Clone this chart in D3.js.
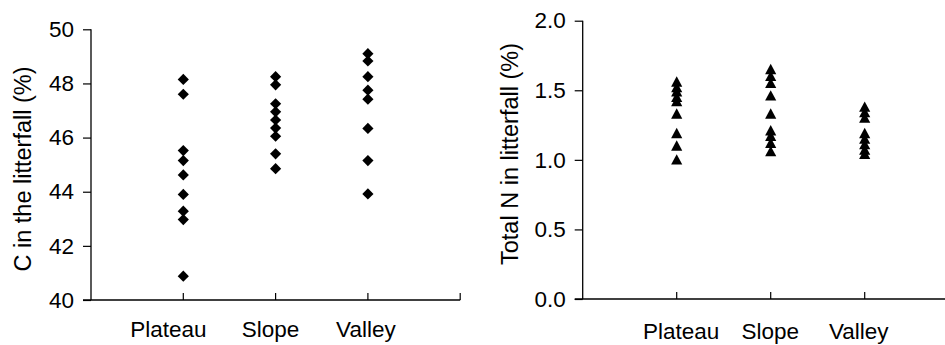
<!DOCTYPE html>
<html>
<head>
<meta charset="utf-8">
<script src="https://cdn.jsdelivr.net/npm/d3@7"></script>
<style>
  body { margin: 0; background: #fff; }
  svg { display: block; }
  text { font-family: "Liberation Sans", Arial, sans-serif; fill: #000; }
</style>
</head>
<body>
<svg id="chart" width="945" height="345"></svg>
<script>
// categories on the x axis
const sites = ['Plateau', 'Slope', 'Valley'];

// carbon content in litterfall (%)
const carbonPlateau = [48.15, 47.6, 45.52, 45.15, 44.62, 43.9, 43.28, 42.97, 40.88];
const carbonSlope = [48.25, 47.95, 47.25, 46.95, 46.65, 46.35, 46.05, 45.4, 44.85];
const carbonValley = [49.1, 48.83, 48.25, 47.75, 47.42, 46.34, 45.15, 43.92];

// total nitrogen in litterfall (%)
const nitrogenPlateau = [1.56, 1.52, 1.49, 1.45, 1.42, 1.33, 1.19, 1.1, 1.0];
const nitrogenSlope = [1.65, 1.6, 1.55, 1.46, 1.33, 1.21, 1.17, 1.12, 1.06];
const nitrogenValley = [1.38, 1.34, 1.3, 1.19, 1.15, 1.11, 1.07, 1.04];

const carbonTicks = [40, 42, 44, 46, 48, 50];
const nitrogenTicks = [0, 0.5, 1.0, 1.5, 2.0];

const svg = d3.select('#chart');

// custom marker shapes for d3.symbol
const diamond = {
  draw(ctx, size) {
    const r = Math.sqrt(size) / 2;
    ctx.moveTo(0, -r); ctx.lineTo(r, 0); ctx.lineTo(0, r); ctx.lineTo(-r, 0); ctx.closePath();
  }
};
const triangle = {
  draw(ctx, size) {
    const w = Math.sqrt(size) / 2;
    ctx.moveTo(0, -w); ctx.lineTo(w, w * 0.85); ctx.lineTo(-w, w * 0.85); ctx.closePath();
  }
};

function panel(opts) {
  const x = d3.scaleLinear().domain([0, 4]).range([opts.left, opts.left + opts.step * 4]);
  const y = d3.scaleLinear().domain(opts.domain).range([opts.bottom, opts.top]);

  const g = svg.append('g');

  // y axis with outside ticks
  g.append('g')
    .attr('transform', 'translate(' + opts.left + ',0)')
    .call(d3.axisLeft(y).tickValues(opts.ticks).tickSize(8).tickPadding(9).tickFormat(opts.fmt))
    .call(a => a.select('.domain').attr('stroke-width', 1.3).attr('d', 'M0,' + (opts.top) + 'V' + opts.bottom))
    .call(a => a.selectAll('.tick line').attr('stroke-width', 1.2))
    .call(a => a.selectAll('.tick text').attr('font-size', 22.5).attr('font-family', '"Liberation Sans", Arial, sans-serif'));

  // x axis: ticks inside, line reaches a bit left of the y axis
  g.append('line')
    .attr('x1', opts.left - 8).attr('x2', x(4))
    .attr('y1', opts.bottom).attr('y2', opts.bottom)
    .attr('stroke', '#000').attr('stroke-width', 1.3);
  g.append('g')
    .selectAll('line')
    .data([1, 2, 3, 4])
    .enter().append('line')
    .attr('x1', d => x(d)).attr('x2', d => x(d))
    .attr('y1', opts.bottom - 7).attr('y2', opts.bottom)
    .attr('stroke', '#000').attr('stroke-width', 1.2);

  // category labels
  g.append('g')
    .selectAll('text')
    .data(sites)
    .enter().append('text')
    .attr('x', (d, i) => x(i + 1) + opts.labelShift[i])
    .attr('y', opts.labelY)
    .attr('text-anchor', 'middle')
    .attr('font-size', 22.5)
    .text(d => d);

  // y title
  g.append('text')
    .attr('transform', 'translate(' + opts.titleX + ',' + opts.titleY + ') rotate(-90)')
    .attr('text-anchor', 'middle')
    .attr('dy', '0.35em')
    .attr('font-size', 23.5)
    .text(opts.title);

  // points
  const sym = d3.symbol().type(opts.shape).size(opts.markSize);
  opts.series.forEach((vals, i) => {
    g.append('g')
      .selectAll('path')
      .data(vals)
      .enter().append('path')
      .attr('transform', d => 'translate(' + x(i + 1) + ',' + y(d) + ')')
      .attr('d', sym)
      .attr('fill', '#000');
  });
}

panel({
  left: 91, step: 92.3, top: 29.3, bottom: 300,
  domain: [40, 50], ticks: carbonTicks, fmt: d3.format('d'),
  series: [carbonPlateau, carbonSlope, carbonValley],
  shape: diamond, markSize: 125,
  labelShift: [-15, -5, -2], labelY: 337,
  title: 'C in the litterfall (%)', titleX: 23, titleY: 169
});

panel({
  left: 582.7, step: 94, top: 20.7, bottom: 299,
  domain: [0, 2], ticks: nitrogenTicks, fmt: d3.format('.1f'),
  series: [nitrogenPlateau, nitrogenSlope, nitrogenValley],
  shape: triangle, markSize: 125,
  labelShift: [4.5, -0.5, -6], labelY: 339,
  title: 'Total N in litterfall (%)', titleX: 510, titleY: 154
});
</script>
</body>
</html>
